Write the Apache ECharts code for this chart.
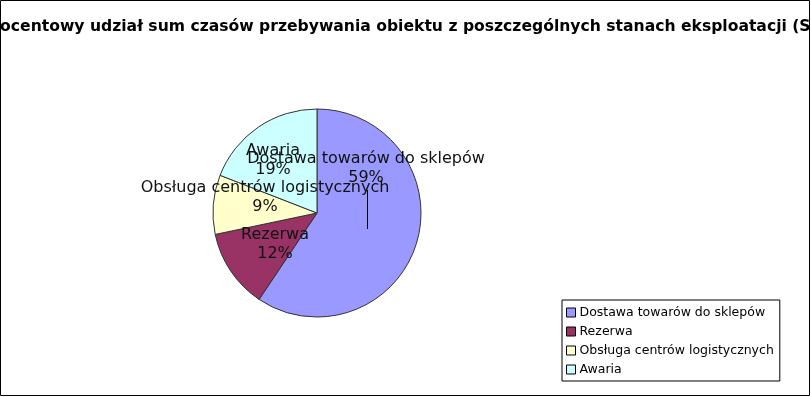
<!DOCTYPE html>
<html>
<head>
  <meta charset="utf-8">
  <script src="https://cdn.jsdelivr.net/npm/echarts@6/dist/echarts.min.js"></script>
  <style>
    html, body { margin: 0; padding: 0; background: #fff; }
    #chart { width: 811px; height: 397px; }
  </style>
</head>
<body>
  <div id="chart"></div>
  <script>
    var titleText = 'Procentowy udział sum czasów przebywania obiektu z poszczególnych stanach eksploatacji (SE)';
    var categories = ['Dostawa towarów do sklepów', 'Rezerwa', 'Obsługa centrów logistycznych', 'Awaria'];
    var values = [59.4, 12.3, 9.2, 19.1];
    var colors = ['#9999ff', '#993366', '#ffffcc', '#ccffff'];

    // where the reference puts each slice label (centre of the text block)
    var labelSpots = [[366, 168], [275, 244], [265, 197], [273, 160]];

    var chart = echarts.init(document.getElementById('chart'));

    var option = {
      backgroundColor: '#ffffff',
      animation: false,
      title: {
        text: titleText,
        left: -19,
        top: 19,
        padding: 0,
        textStyle: {
          fontFamily: 'DejaVu Sans',
          fontSize: 15.6,
          fontWeight: 'bold',
          color: '#000'
        }
      },
      legend: {
        orient: 'vertical',
        left: 562,
        top: 300,
        width: 216,
        padding: [6, 6, 5, 4],
        itemGap: 6,
        itemWidth: 9,
        itemHeight: 9,
        borderColor: '#000',
        borderWidth: 1,
        borderRadius: 0,
        icon: 'rect',
        itemStyle: { borderColor: '#000', borderWidth: 1 },
        textStyle: {
          fontFamily: 'DejaVu Sans',
          fontSize: 12.5,
          color: '#000',
          padding: [0, 0, 0, -1]
        },
        data: categories
      },
      graphic: [{
        type: 'rect',
        shape: { x: 0.5, y: 0.5, width: 809, height: 395 },
        style: { fill: 'none', stroke: '#000', lineWidth: 1 },
        silent: true
      }, {
        // leader line under the first slice label
        type: 'line',
        shape: { x1: 367.5, y1: 190, x2: 367.5, y2: 229 },
        style: { stroke: '#000', lineWidth: 1 },
        z: 100,
        silent: true
      }],
      series: [{
        type: 'pie',
        center: [317, 213],
        radius: 104,
        startAngle: 90,
        clockwise: true,
        percentPrecision: 1,
        itemStyle: { borderColor: '#333', borderWidth: 1 },
        label: {
          show: true,
          position: 'inside',
          overflow: 'none',
          formatter: function (p) {
            return p.name + '\n' + Math.round(p.percent) + '%';
          },
          fontFamily: 'DejaVu Sans',
          fontSize: 16,
          lineHeight: 19,
          color: '#111',
          align: 'center'
        },
        labelLine: { show: false },
        labelLayout: function (params) {
          var p = labelSpots[params.dataIndex];
          return { x: p[0], y: p[1], align: 'center', verticalAlign: 'middle' };
        },
        emphasis: { disabled: true },
        data: categories.map(function (name, i) {
          return {
            name: name,
            value: values[i],
            itemStyle: { color: colors[i] }
          };
        })
      }]
    };

    chart.setOption(option);
  </script>
</body>
</html>
